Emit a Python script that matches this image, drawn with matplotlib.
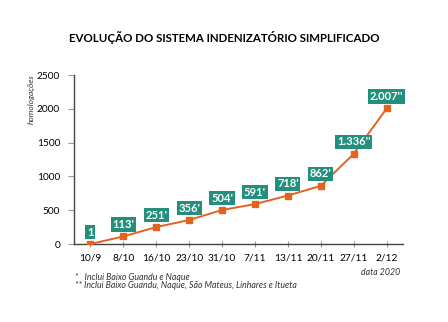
import matplotlib
matplotlib.use("Agg")
import matplotlib.pyplot as plt

datas = ["10/9", "8/10", "16/10", "23/10", "31/10", "7/11", "13/11", "20/11", "27/11", "2/12"]
valores = [1, 113, 251, 356, 504, 591, 718, 862, 1336, 2007]
rotulos = ["1", "113'", "251'", "356'", "504'", "591'", "718'", "862'", "1.336''", "2.007''"]
yticks = [0, 500, 1000, 1500, 2000, 2500]

LARANJA = "#e4621f"
VERDE = "#22907d"
FONTE = "Lato"

fig = plt.figure(figsize=(4.48, 3.22), dpi=100)
ax = fig.add_axes([0.165, 0.242, 0.735, 0.525])

x = list(range(len(datas)))
ax.plot(x, valores, color=LARANJA, lw=1.4, marker="s", ms=4, zorder=3)

for xi, v, r in zip(x, valores, rotulos):
    ax.annotate(r, (xi, v), xytext=(0, 8.5), textcoords="offset points",
                ha="center", va="center", color="white", fontsize=8,
                fontweight="bold", family=FONTE,
                bbox=dict(boxstyle="square,pad=0.15", fc=VERDE, ec="none"))

ax.set_xlim(-0.5, 9.5)
ax.set_ylim(0, 2500)
ax.set_xticks(x)
ax.set_xticklabels(datas, family=FONTE, fontsize=7.3)
ax.set_yticks(yticks)
ax.set_yticklabels([str(t) for t in yticks], family=FONTE, fontsize=7.3)
ax.tick_params(axis="x", direction="inout", length=5, color="#999999", pad=4)
ax.tick_params(axis="y", direction="out", length=4, color="#999999", pad=6)
for s in ["top", "right"]:
    ax.spines[s].set_visible(False)
for s in ["left", "bottom"]:
    ax.spines[s].set_color("#444444")
    ax.spines[s].set_linewidth(1.0)

fig.text(0.07, 0.77, "homologações", rotation=90, ha="center", va="top",
         fontsize=6, style="italic", family=FONTE, color="#333333")

fig.text(0.5, 0.885, "EVOLUÇÃO DO SISTEMA INDENIZATÓRIO SIMPLIFICADO",
         ha="center", va="center", fontsize=8.3, fontweight="bold", family=FONTE)

fig.text(0.893, 0.155, "data 2020", ha="right", va="center", fontsize=6.3,
         style="italic", family=FONTE, color="#333333")
fig.text(0.168, 0.138, "*   Inclui Baixo Guandu e Naque", ha="left", va="center",
         fontsize=6.3, style="italic", family=FONTE, color="#333333")
fig.text(0.168, 0.114, "** Inclui Baixo Guandu, Naque, São Mateus, Linhares e Itueta",
         ha="left", va="center", fontsize=6.3, style="italic", family=FONTE, color="#333333")

fig.savefig("out.png", dpi=100)
